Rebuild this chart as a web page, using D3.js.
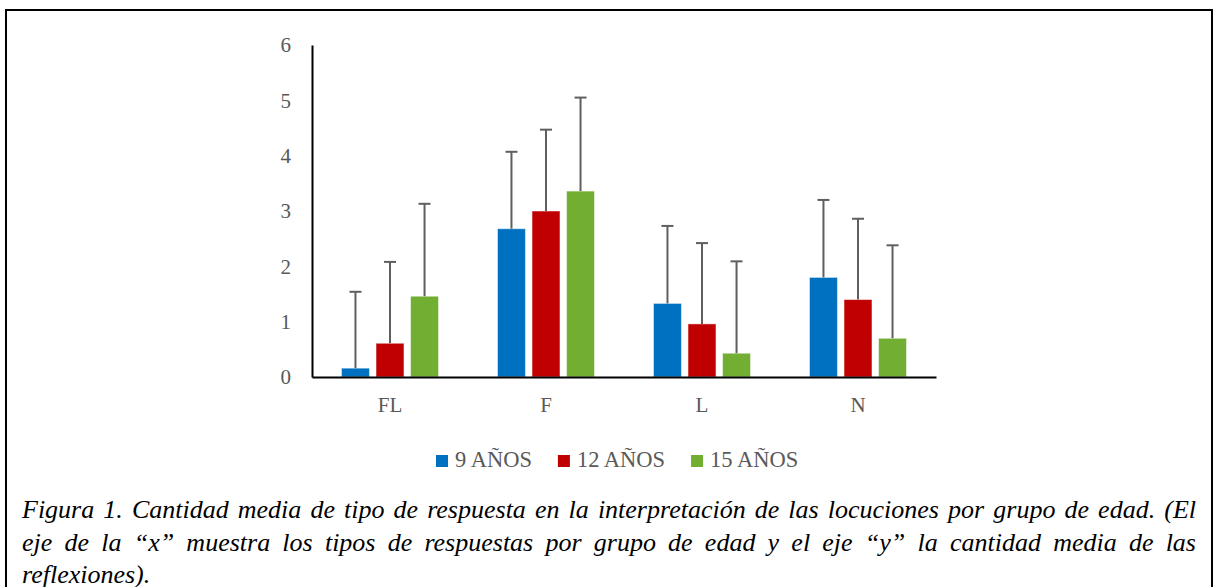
<!DOCTYPE html>
<html>
<head>
<meta charset="utf-8">
<script src="https://cdn.jsdelivr.net/npm/d3@7"></script>
<style>
  body { margin: 0; background: #fff; }
  svg { display: block; }
</style>
</head>
<body>
<div id="chart"></div>
<script>
const categories = ["FL", "F", "L", "N"];
const seriesNames = ["9 AÑOS", "12 AÑOS", "15 AÑOS"];
const mean9 = [0.16, 2.68, 1.33, 1.80];
const mean12 = [0.61, 3.00, 0.96, 1.40];
const mean15 = [1.46, 3.36, 0.43, 0.70];
const err9 = [1.38, 1.39, 1.40, 1.40];
const err12 = [1.47, 1.47, 1.46, 1.46];
const err15 = [1.67, 1.69, 1.66, 1.68];
const yTicks = [0, 1, 2, 3, 4, 5, 6];
const captionLines = [
  "Figura 1. Cantidad media de tipo de respuesta en la interpretación de las locuciones por grupo de edad. (El",
  "eje de la “x” muestra los tipos de respuestas por grupo de edad y el eje “y” la cantidad media de las",
  "reflexiones)."
];

const colors = ["#0070C0", "#C00000", "#72AE32"];
const means = [mean9, mean12, mean15];
const errs = [err9, err12, err15];

const width = 1214, height = 587;
const svg = d3.select("#chart").append("svg")
  .attr("width", width)
  .attr("height", height);

// frame (open at the bottom)
svg.append("path")
  .attr("d", `M6,${height} V10 H1212 V${height}`)
  .attr("fill", "none")
  .attr("stroke", "#000")
  .attr("stroke-width", 2);

const x0 = d3.scaleBand()
  .domain(categories)
  .range([312, 936])
  .paddingInner(0.378)
  .paddingOuter(0.189);
const x1 = d3.scaleBand()
  .domain(seriesNames)
  .range([0, x0.bandwidth()])
  .paddingInner(0.19);
const y = d3.scaleLinear().domain([0, 6]).range([377, 45]);

const font = "'Liberation Serif', 'DejaVu Serif', serif";

// bars
const rows = [];
categories.forEach((c, i) => {
  seriesNames.forEach((s, j) => {
    rows.push({ cat: c, series: s, j: j, value: means[j][i], err: errs[j][i] });
  });
});

const plot = svg.append("g");
plot.selectAll("rect.bar")
  .data(rows)
  .enter()
  .append("rect")
  .attr("class", "bar")
  .attr("x", d => x0(d.cat) + x1(d.series))
  .attr("y", d => y(d.value))
  .attr("width", x1.bandwidth())
  .attr("height", d => y(0) - y(d.value))
  .attr("fill", d => colors[d.j])
  .attr("stroke", "rgba(255,255,255,0.5)")
  .attr("stroke-width", 1);

// error bars (plus side only)
const eb = plot.selectAll("g.err")
  .data(rows)
  .enter()
  .append("g")
  .attr("class", "err")
  .attr("stroke", "#5f5f5f")
  .attr("stroke-width", 2);
eb.append("line")
  .attr("x1", d => x0(d.cat) + x1(d.series) + x1.bandwidth() / 2)
  .attr("x2", d => x0(d.cat) + x1(d.series) + x1.bandwidth() / 2)
  .attr("y1", d => y(d.value))
  .attr("y2", d => y(d.value + d.err));
eb.append("line")
  .attr("x1", d => x0(d.cat) + x1(d.series) + x1.bandwidth() / 2 - 6)
  .attr("x2", d => x0(d.cat) + x1(d.series) + x1.bandwidth() / 2 + 6)
  .attr("y1", d => y(d.value + d.err))
  .attr("y2", d => y(d.value + d.err));

// axes
const yAxis = svg.append("g")
  .attr("transform", "translate(312,0)")
  .call(d3.axisLeft(y).tickValues(yTicks).tickSize(0).tickPadding(21).tickFormat(d3.format("d")));
yAxis.select(".domain").attr("stroke", "#000").attr("stroke-width", 2);
yAxis.selectAll("text")
  .attr("fill", "#595959")
  .style("font-family", font)
  .style("font-size", "21px");

const xAxis = svg.append("g")
  .attr("transform", "translate(0,377)")
  .call(d3.axisBottom(x0).tickSize(0).tickPadding(20));
xAxis.select(".domain").attr("stroke", "#000").attr("stroke-width", 2);
xAxis.selectAll("text")
  .attr("fill", "#595959")
  .style("font-family", font)
  .style("font-size", "21px");

// legend
const legend = svg.append("g");
let lx = 436;
seriesNames.forEach((s, j) => {
  legend.append("rect")
    .attr("x", lx).attr("y", 455)
    .attr("width", 12).attr("height", 12)
    .attr("fill", colors[j]);
  const t = legend.append("text")
    .attr("x", lx + 19).attr("y", 467)
    .attr("fill", "#595959")
    .style("font-family", font)
    .style("font-size", "22.5px")
    .text(s);
  lx += 19 + t.node().getComputedTextLength() + 26;
});

// caption, first two lines justified
const cap = svg.append("g")
  .style("font-family", "'Liberation Serif', 'Times New Roman', serif")
  .style("font-style", "italic")
  .style("font-size", "26px")
  .attr("fill", "#000");
captionLines.forEach((line, i) => {
  const t = cap.append("text")
    .attr("x", 22)
    .attr("y", 518 + i * 32.5)
    .text(line);
  if (i < captionLines.length - 1) {
    const natural = t.node().getComputedTextLength();
    const spaces = line.split(" ").length - 1;
    t.attr("word-spacing", (1196 - 22 - natural) / spaces);
  }
});
</script>
</body>
</html>
